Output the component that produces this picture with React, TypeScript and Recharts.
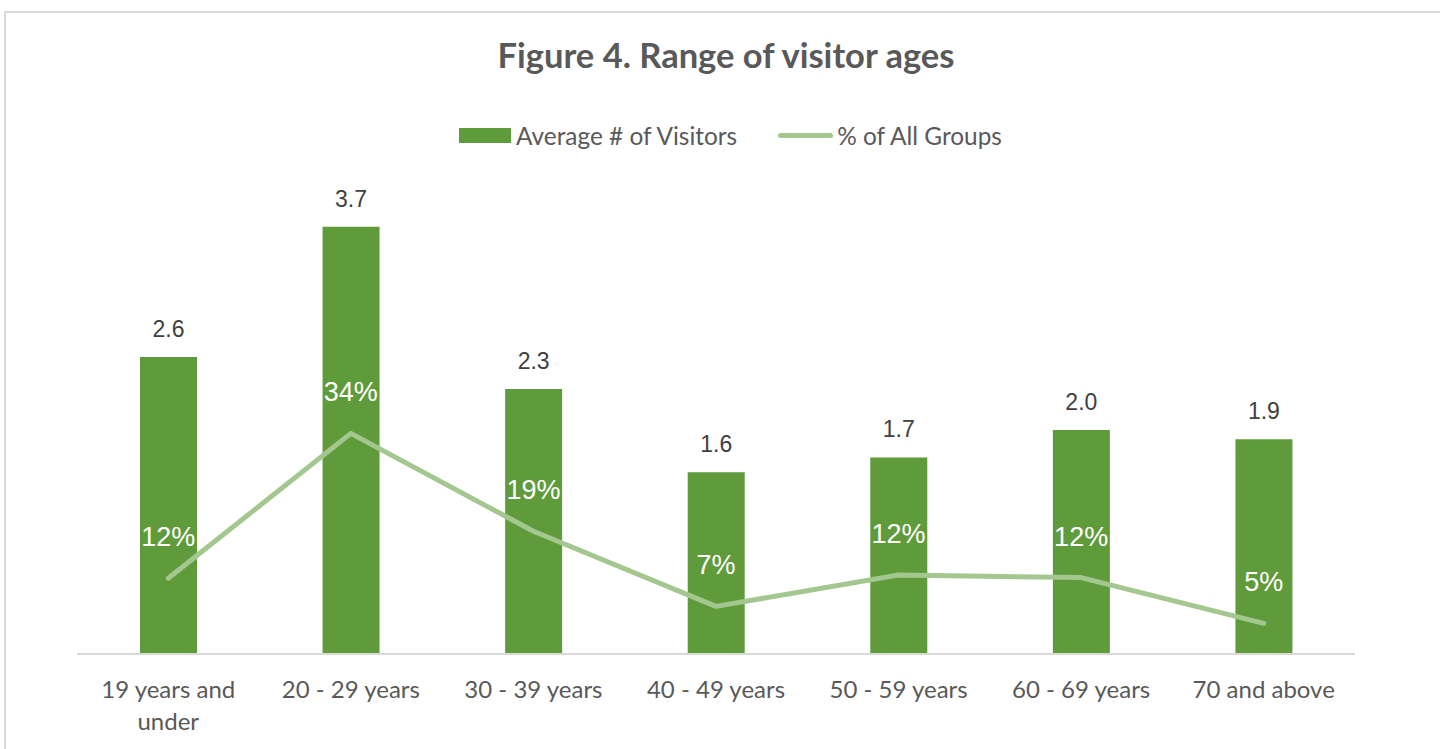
import { Bar, ComposedChart, LabelList, Legend, Line, XAxis, YAxis } from 'recharts'

const categories = [
  '19 years and under',
  '20 - 29 years',
  '30 - 39 years',
  '40 - 49 years',
  '50 - 59 years',
  '60 - 69 years',
  '70 and above'
]
const avgVisitors = [2.6, 3.74, 2.32, 1.59, 1.72, 1.96, 1.88]
const pctOfGroups = [0.116, 0.338, 0.188, 0.073, 0.121, 0.117, 0.047]

const BAR = '#5f9b3b'
const LINE = '#a3c78f'
const GREY = '#595959'
const FONT = 'Lato, "Liberation Sans", sans-serif'

const data = categories.map((name, i) => ({
  name,
  avg: avgVisitors[i],
  pct: pctOfGroups[i]
}))

// greedy word wrap, roughly the width Excel gives each category
function wrap(label: string, maxChars = 13): string[] {
  const lines: string[] = []
  let cur = ''
  for (const w of label.split(' ')) {
    const next = cur ? `${cur} ${w}` : w
    if (next.length > maxChars && cur) {
      lines.push(cur)
      cur = w
    } else {
      cur = next
    }
  }
  if (cur) lines.push(cur)
  return lines
}

function CategoryTick(props: any): React.JSX.Element {
  const { x, y, payload } = props
  return (
    <text
      x={x}
      y={y + 44}
      textAnchor="middle"
      fill={GREY}
      style={{ fontFamily: FONT, fontSize: 24 }}
    >
      {wrap(String(payload.value)).map((line, i) => (
        <tspan key={i} x={x} dy={i === 0 ? 0 : 32}>
          {line}
        </tspan>
      ))}
    </text>
  )
}

/** Legend drawn like the Excel one: filled swatch for bars, thick rounded stroke for the line. */
function LegendContent(): React.JSX.Element {
  const text = { fontFamily: FONT, fontSize: 24.4, color: GREY }
  return (
    <div style={{ display: 'flex', alignItems: 'center', height: 30, paddingLeft: 459 }}>
      <span style={{ width: 52, height: 15, background: BAR, display: 'inline-block', marginRight: 5 }} />
      <span style={text}>Average # of Visitors</span>
      <span
        style={{
          width: 55,
          height: 5,
          borderRadius: 3,
          background: LINE,
          display: 'inline-block',
          marginLeft: 41,
          marginRight: 4
        }}
      />
      <span style={text}>% of All Groups</span>
    </div>
  )
}

export default function App(): React.JSX.Element {
  return (
    <div style={{ position: 'absolute', left: 0, top: 0, width: 1440, height: 749, overflow: 'hidden' }}>
      <div
        style={{
          position: 'absolute',
          left: 4,
          top: 11,
          width: 1500,
          height: 800,
          border: '2px solid #d9d9d9'
        }}
      />
      <div
        style={{
          position: 'absolute',
          top: 35,
          left: 0,
          width: 1452,
          textAlign: 'center',
          fontFamily: FONT,
          fontWeight: 700,
          fontSize: 34.5,
          lineHeight: '40px',
          color: GREY
        }}
      >
        Figure 4. Range of visitor ages
      </div>
      <div style={{ position: 'absolute', left: 0, top: 0 }}>
        <ComposedChart width={1440} height={749} data={data} margin={{ top: 167, right: 85, bottom: 0, left: 77 }}>
          <XAxis
            dataKey="name"
            height={95}
            interval={0}
            tickLine={false}
            tickSize={0}
            tickMargin={0}
            axisLine={{ stroke: '#d9d9d9', strokeWidth: 2 }}
            tick={<CategoryTick />}
          />
          <YAxis yAxisId="left" domain={[0, 4]} hide />
          <YAxis yAxisId="right" orientation="right" domain={[0, 0.7]} hide />
          <Legend
            verticalAlign="top"
            content={<LegendContent />}
            wrapperStyle={{ top: 120, left: 0, width: 1440, height: 30 }}
          />
          <Bar yAxisId="left" dataKey="avg" fill={BAR} barSize={57} isAnimationActive={false}>
            <LabelList
              dataKey="avg"
              position="top"
              offset={20}
              formatter={(v: any) => Number(v).toFixed(1)}
              style={{ fontFamily: '"Liberation Sans", Arial, sans-serif', fontSize: 23, fill: '#404040' }}
            />
          </Bar>
          <Line
            yAxisId="right"
            dataKey="pct"
            stroke={LINE}
            strokeWidth={5}
            strokeLinecap="round"
            strokeLinejoin="round"
            dot={false}
            activeDot={false}
            isAnimationActive={false}
          >
            <LabelList
              dataKey="pct"
              position="top"
              offset={32}
              formatter={(v: any) => `${Math.round(Number(v) * 100)}%`}
              style={{ fontFamily: '"Liberation Sans", Arial, sans-serif', fontSize: 27, fill: '#ffffff' }}
            />
          </Line>
        </ComposedChart>
      </div>
    </div>
  )
}
